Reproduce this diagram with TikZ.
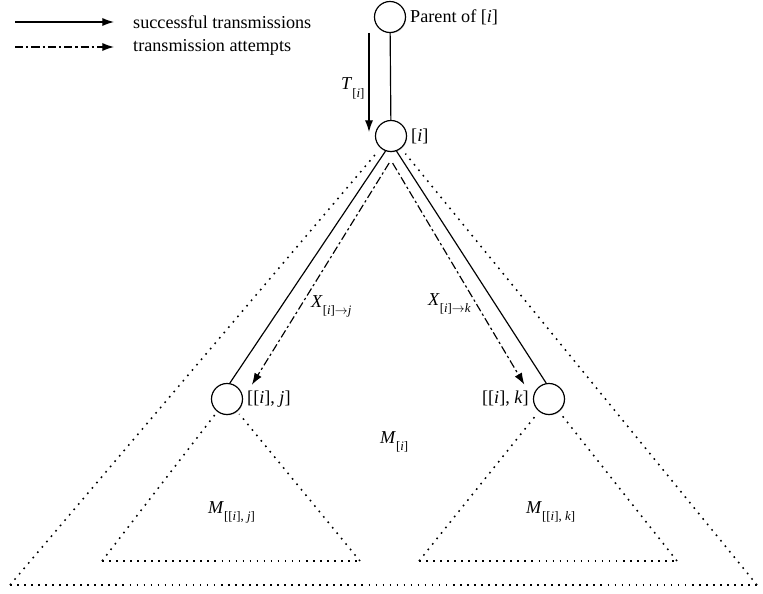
\documentclass[tikz,border=0pt]{standalone}
\usepackage{fontspec}
\setmainfont{Liberation Serif}
\usetikzlibrary{arrows.meta,positioning,shadows}
\newcommand{\lsub}[1]{\raisebox{-6pt}{\fontsize{11}{11}\selectfont #1}}

\begin{document}
\begin{tikzpicture}[x=0.03cm,y=-0.03cm,
  font=\fontsize{15.5}{18}\selectfont,
  vtx/.style={circle,draw,line width=1pt,fill=white,minimum size=0.93cm,inner sep=0pt,
    drop shadow={shadow xshift=0.6pt,shadow yshift=-0.8pt,opacity=0.35}},
  link/.style={line width=1pt},
  ok/.style={line width=1pt,-{Latex[length=10pt,width=7pt]}},
  try/.style={line width=1pt,dash pattern=on 7pt off 2.5pt on 2pt off 2.5pt,-{Latex[length=10pt,width=7pt]}},
  region/.style={line width=1.3pt,dash pattern=on 1.4pt off 4.6pt}]
\useasboundingbox (0,0) rectangle (763,593);

% legend
\coordinate (ka) at (15,22);
\coordinate (kb) at (114,22);
\coordinate (kc) at (15,47);
\coordinate (kd) at (114,47);
\draw[ok] (ka) -- (kb);
\draw[try] (kc) -- (kd);
\node[anchor=west,inner sep=0pt] (kt1) at (133,22) {successful transmissions};
\node[anchor=west,inner sep=0pt] (kt2) at (133,47) {transmission attempts};

% vertices
\node[vtx] (par) at (390,17) {};
\node[vtx] (ni) at (391,136) {};
\node[vtx] (nj) at (227,399) {};
\node[vtx] (nk) at (549,399) {};
\node[right=0pt of par] (parl) {Parent of [\textit{i}]};
\node[right=0pt of ni] (nil) {[\textit{i}]};
\node[right=0pt of nj] (njl) {[[\textit{i}], \textit{j}]};
\node[left=0pt of nk] (nkl) {[[\textit{i}], \textit{k}]};

% subtrees
\coordinate (bl) at (10,585);
\coordinate (br) at (757,585);
\coordinate (jl) at (102,561);
\coordinate (jr) at (360,561);
\coordinate (kl) at (419,561);
\coordinate (kr) at (677,561);
\draw[region] (bl) -- (br);
\draw[region,shorten >=2mm] (bl) -- (ni);
\draw[region,shorten >=2mm] (br) -- (ni);
\draw[region] (jl) -- (jr);
\draw[region,shorten >=1mm] (jl) -- (nj);
\draw[region,shorten >=1mm] (jr) -- (nj);
\draw[region] (kl) -- (kr);
\draw[region,shorten >=1mm] (kl) -- (nk);
\draw[region,shorten >=1mm] (kr) -- (nk);
\node[anchor=base west] (mi) at (376,443) {\textit{M}\lsub{[\textit{i}]}};
\node[anchor=base west] (mj) at (204,513) {\textit{M}\lsub{[[\textit{i}], \textit{j}]}};
\node[anchor=base west] (mk) at (522,513) {\textit{M}\lsub{[[\textit{i}], \textit{k}]}};

% transmissions
\draw[link] (par) -- (ni);
\coordinate (ta) at (369,33);
\coordinate (tb) at (369,132);
\draw[ok] (ta) -- (tb);
\node[anchor=base west] (tl) at (337,90) {\textit{T}\lsub{[\textit{i}]}};
\draw[link] (ni.250) -- (nj.80);
\draw[link] (ni.290) -- (nk.100);
\draw[try,shorten <=0.42cm,shorten >=0.5cm] (ni.290) -- (nj.east);
\draw[try,shorten <=0.42cm,shorten >=0.5cm] (ni.250) -- (nk.west);
\node[anchor=base west] (xj) at (307,307) {\textit{X}\lsub{[\textit{i}]$\rightarrow$\textit{j}}};
\node[anchor=base west] (xk) at (424,305) {\textit{X}\lsub{[\textit{i}]$\rightarrow$\textit{k}}};
\end{tikzpicture}
\end{document}
